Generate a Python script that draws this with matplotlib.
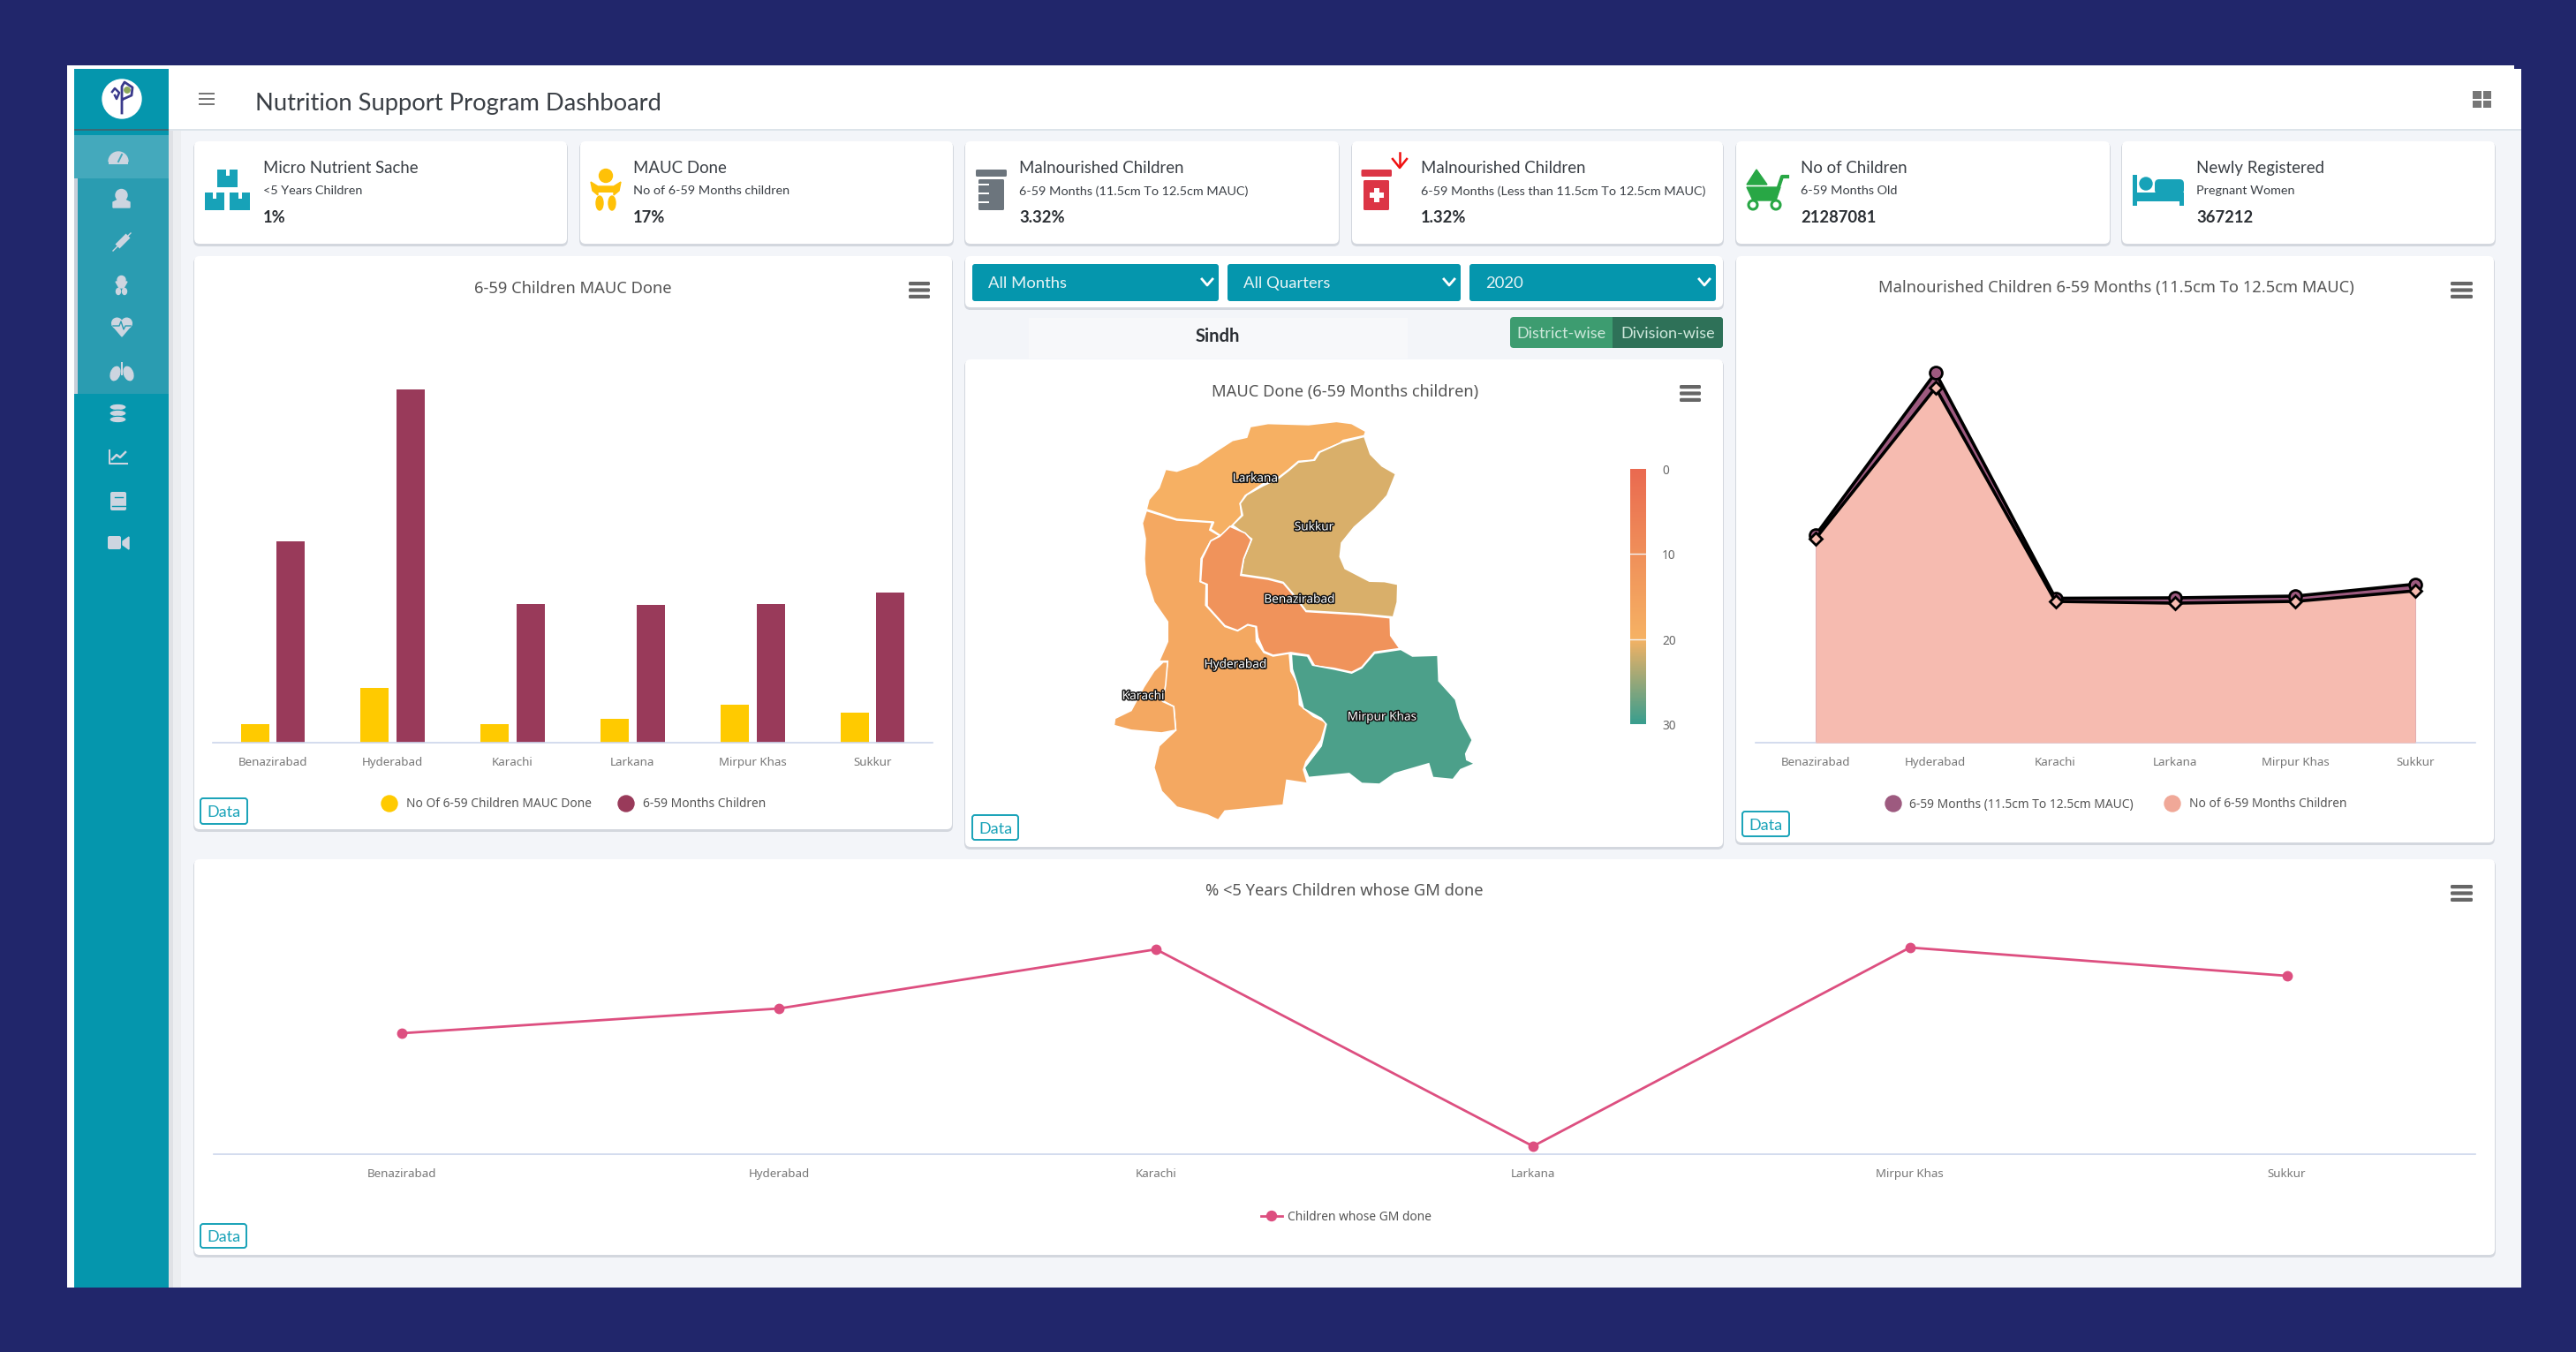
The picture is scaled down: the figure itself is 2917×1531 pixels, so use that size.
import matplotlib
matplotlib.use("Agg")
import matplotlib.pyplot as plt
import numpy as np
from matplotlib import patheffects as pe
from matplotlib.colors import LinearSegmentedColormap, Normalize
from matplotlib.patches import Circle, Ellipse, FancyBboxPatch, Polygon, Rectangle, Wedge

W, H = 2917, 1531

districts = ["Benazirabad", "Hyderabad", "Karachi", "Larkana", "Mirpur Khas", "Sukkur"]

# left bars
mauc_done = [21.5, 62, 21.5, 27.5, 43, 34.5]
children_659 = [228, 400, 157.5, 156, 157.5, 170.5]

# right area chart
malnourished_band = [235, 419, 163.5, 164, 166, 179.5]
children_band = [231, 402, 160, 158, 160, 172]

# bottom line
gm_done = [137, 165, 232, 9, 234, 202]

# map, values on the colour scale
map_values = {"Larkana": 19.3, "Sukkur": 21.5, "Benazirabad": 10.8, "Hyderabad": 17.2,
              "Karachi": 17.2, "Mirpur Khas": 29.0}
scale_ticks = [0, 10, 20, 30]
scale_colors = ["#EA6A50", "#F0905A", "#F6B264", "#3A9E8E"]

# outlines in map units
larkana = [(585, 455), (620, 447), (700, 450), (755, 442), (785, 447), (813, 467), (810, 478), (768, 490),
           (762, 497), (720, 520), (710, 540), (680, 543), (660, 565), (640, 585), (610, 600), (575, 630),
           (565, 650), (568, 680), (550, 705), (527, 732), (507, 715), (513, 697), (440, 690), (380, 665),
           (385, 640), (405, 610), (418, 563), (440, 568), (480, 550), (520, 515), (550, 490), (578, 482)]
sukkur = [(810, 480), (822, 525), (845, 555), (872, 575), (855, 630), (830, 665), (790, 710), (765, 750),
          (762, 785), (772, 815), (820, 847), (850, 848), (876, 855), (875, 900), (867, 938), (800, 930),
          (695, 922), (670, 880), (650, 850), (620, 840), (567, 830), (572, 790), (588, 740), (550, 705),
          (570, 680), (565, 650), (578, 628), (610, 605), (640, 587), (662, 565), (680, 545), (712, 540),
          (722, 520), (765, 495)]
benazirabad = [(545, 708), (575, 725), (587, 742), (572, 790), (566, 832), (620, 842), (650, 852), (670, 882),
               (695, 924), (800, 932), (861, 940), (862, 985), (880, 1018), (830, 1027), (805, 1065), (785, 1078),
               (750, 1068), (712, 1062), (700, 1035), (665, 1028), (630, 1035), (612, 1025), (600, 990),
               (597, 962), (580, 957), (560, 972), (535, 960), (500, 910), (500, 855), (487, 848), (490, 790),
               (507, 745), (525, 733)]
hyderabad = [(380, 668), (440, 692), (510, 698), (505, 717), (525, 732), (507, 745), (488, 790), (486, 848),
             (498, 855), (497, 908), (535, 962), (560, 973), (580, 958), (596, 963), (597, 1000), (612, 1028),
             (630, 1037), (662, 1030), (665, 1075), (680, 1110), (682, 1160), (710, 1190), (735, 1205),
             (725, 1250), (695, 1305), (690, 1325), (698, 1360), (657, 1352), (650, 1415), (535, 1430),
             (522, 1453), (500, 1440), (440, 1420), (410, 1380), (395, 1320), (405, 1265), (438, 1225),
             (434, 1165), (412, 1150), (422, 1050), (405, 1050), (422, 1000), (422, 950), (395, 900),
             (378, 830), (376, 790), (378, 740), (372, 700)]
karachi = [(413, 1052), (422, 1052), (418, 1110), (412, 1152), (434, 1165), (438, 1225), (410, 1232),
           (350, 1225), (316, 1213), (318, 1195), (350, 1175), (375, 1115), (395, 1075)]
mirpur_khas = [(666, 1032), (698, 1037), (708, 1060), (750, 1070), (785, 1080), (805, 1067), (830, 1030),
               (882, 1020), (905, 1037), (955, 1035), (957, 1100), (990, 1147), (1000, 1195), (1023, 1250),
               (1010, 1285), (1012, 1300), (1028, 1310), (1000, 1325), (985, 1350), (945, 1345), (937, 1310),
               (870, 1335), (840, 1362), (805, 1360), (780, 1335), (700, 1345), (692, 1320), (725, 1265),
               (735, 1210), (725, 1195), (690, 1170), (678, 1110), (668, 1070)]
map_shapes = {"Larkana": larkana, "Sukkur": sukkur, "Hyderabad": hyderabad, "Karachi": karachi,
              "Benazirabad": benazirabad, "Mirpur Khas": mirpur_khas}
map_labels = {"Larkana": (595, 587), "Sukkur": (711, 710), "Benazirabad": (682, 894),
              "Hyderabad": (556, 1059), "Karachi": (374, 1139), "Mirpur Khas": (845, 1192)}

NAVY = "#21266B"
TEAL = "#0596AD"
ICON = "#17A2B8"
LIGHT = "#CDD5E0"
UI_FONT = "Lato"
CHART_FONT = "Noto Sans"

fig = plt.figure(figsize=(W / 100, H / 100), dpi=100, facecolor=NAVY)
bg = fig.add_axes([0, 0, 1, 1])
bg.set_xlim(0, W); bg.set_ylim(H, 0); bg.axis("off")


def rect(x0, y0, x1, y1, color, z=1):
    bg.add_patch(Rectangle((x0, y0), x1 - x0, y1 - y0, color=color, lw=0, zorder=z))


def rbox(x0, y0, x1, y1, color, r=6, z=2, edge="none", lw=0):
    bg.add_patch(FancyBboxPatch((x0, y0), x1 - x0, y1 - y0, boxstyle=f"round,pad=0,rounding_size={r}",
                                fc=color, ec=edge, lw=lw, zorder=z))


def label(x, y, s, size, color="#333333", ha="left", weight="normal", font=UI_FONT, z=6):
    return bg.text(x, y + 1.5, s, fontsize=size, color=color, ha=ha, va="center", fontweight=weight,
                   family=font, zorder=z)


def card(x0, y0, x1, y1):
    rbox(x0 - 1, y0 + 1, x1 + 1, y1 + 3, "#D3D7DE", r=7, z=2)
    rbox(x0, y0, x1, y1, "white", r=6, z=3)


def menu_bars(x0, x1, y0, y1, color="#666666"):
    t = (y1 - y0) / 4.5
    for y in np.linspace(y0, y1 - t, 3):
        rbox(x0, y, x1, y + t, color, r=1.5, z=5)


def data_button(x0, y0, x1, y1):
    rbox(x0, y0, x1, y1, "white", r=3, z=5, edge=ICON, lw=1.4)
    label((x0 + x1) / 2, (y0 + y1) / 2, "Data", 13, ICON, ha="center")


def px_axes(x0, y0, x1, y1):
    ax = fig.add_axes([x0 / W, 1 - y1 / H, (x1 - x0) / W, (y1 - y0) / H])
    ax.patch.set_alpha(0)
    return ax


def district_axes(x0, x1, y_base, top=450):
    # one data unit is one pixel tall, baseline at y_base
    ax = px_axes(x0, y_base - top, x1, y_base)
    ax.set_xlim(-0.5, 5.5); ax.set_ylim(0, top)
    for s in ["top", "left", "right"]:
        ax.spines[s].set_visible(False)
    ax.spines["bottom"].set_color("#CCD6EB")
    ax.spines["bottom"].set_linewidth(1.2)
    ax.set_yticks([])
    ax.set_xticks(range(len(districts)))
    ax.set_xticklabels(districts, fontsize=9.6, color="#777777", family=CHART_FONT)
    ax.tick_params(axis="x", length=0, pad=11.5)
    return ax


# page frame
rect(76, 74, 2847, 78, "white")
rect(76, 78, 2855, 1458, "#F3F5F9")
rect(76, 78, 84, 1458, "white")
rect(191, 74, 2855, 146, "white", z=1)
rect(2847, 74, 2917, 78, NAVY, z=1)
rect(191, 146, 2855, 148, "#DDE4EA", z=1)
rect(191, 148, 205, 1458, "#ECEEF1", z=1)
rect(191, 148, 196, 1458, "#DFE1E5", z=1)

# sidebar
rect(84, 78, 191, 1458, TEAL, z=2)
rect(84, 146, 191, 147.5, "#3A6A76", z=3)
rect(84, 153, 191, 202, "#44A9BC", z=3)
rect(88, 202, 191, 446, "#2A9CB1", z=3)
rect(84, 202, 88, 446, "#C9CFD9", z=3)

bg.add_patch(Circle((138, 112), 22, color="white", zorder=5))
bg.plot([127, 130, 135, 132, 130], [104, 100, 105, 112, 108], color="#3A3A8C", lw=1.8, zorder=6)
bg.plot([138, 138, 141, 150, 149, 140], [128, 98, 93, 99, 108, 112], color="#3A3A8C", lw=2, zorder=6)
bg.add_patch(Circle((144, 102), 3.2, color="#8CA85A", zorder=6))

# sidebar icons
bg.add_patch(Wedge((134, 183), 11, 180, 360, color=LIGHT, zorder=5))
rect(123, 183, 145, 186, LIGHT, z=5)
bg.plot([134, 138], [183, 175], color="#44A9BC", lw=1.4, zorder=6)
bg.add_patch(Circle((137.5, 221), 6.5, color=LIGHT, zorder=5))
bg.add_patch(Polygon([(128, 235), (128, 229), (134, 226), (141, 226), (147, 229), (147, 235)], color=LIGHT, zorder=5))
bg.plot([128, 148], [284, 264], color=LIGHT, lw=1, zorder=5)
bg.plot([133, 145], [279, 267], color=LIGHT, lw=5, solid_capstyle="butt", zorder=5)
bg.add_patch(Circle((137.5, 317), 4.5, color=LIGHT, zorder=5))
bg.add_patch(Polygon([(131, 319), (144, 319), (140, 326), (135, 326)], color=LIGHT, zorder=5))
bg.add_patch(Ellipse((134, 330), 5, 7, color=LIGHT, zorder=5))
bg.add_patch(Ellipse((141, 330), 5, 7, color=LIGHT, zorder=5))
for cx in [132.5, 143.5]:
    bg.add_patch(Circle((cx, 366), 5.8, color=LIGHT, zorder=5))
bg.add_patch(Polygon([(127, 368), (149, 368), (138, 381)], color=LIGHT, zorder=5))
bg.plot([128, 135, 137, 140, 142, 148], [369, 369, 364, 373, 369, 369], color="#2A9CB1", lw=1, zorder=6)
bg.add_patch(Ellipse((130.5, 423), 10, 16, angle=20, color=LIGHT, zorder=5))
bg.add_patch(Ellipse((145.5, 423), 10, 16, angle=-20, color=LIGHT, zorder=5))
rect(137, 410, 139, 425, LIGHT, z=5)
for y in [461, 468, 475]:
    bg.add_patch(Ellipse((133.5, y), 19, 7.5, fc=LIGHT, ec=TEAL, lw=0.8, zorder=5))
bg.plot([124, 124, 144], [510, 525, 525], color=LIGHT, lw=1.5, zorder=5)
bg.plot([127, 132, 136, 142], [520, 515, 518, 512], color=LIGHT, lw=1.8, zorder=5)
rbox(125, 557, 143, 578, LIGHT, r=2, z=5)
bg.plot([130, 139], [563, 563], color=TEAL, lw=1, zorder=6)
bg.plot([127, 143], [573, 573], color=TEAL, lw=1, zorder=6)
rbox(122, 607, 137, 622, LIGHT, r=2, z=5)
bg.add_patch(Polygon([(139, 613), (146, 608), (146, 622), (139, 617)], color=LIGHT, zorder=5))

# header
for y in [106, 112, 118]:
    rect(225, y - 1.3, 243, y + 1.3, "#777777", z=5)
label(289, 116, "Nutrition Support Program Dashboard", 19.7, "#3A3F45")
for x in [2800, 2811.5]:
    for y in [103, 113.5]:
        rect(x, y, x + 9.5, y + 8.5, "#777777", z=5)

# top stat cards
stat_x = [(220, 642, 298), (657, 1079, 717), (1093, 1516, 1154), (1531, 1951, 1609), (1966, 2389, 2039), (2403, 2825, 2487)]
stat_title = ["Micro Nutrient Sache", "MAUC Done", "Malnourished Children", "Malnourished Children", "No of Children", "Newly Registered"]
stat_sub = ["<5 Years Children", "No of 6-59 Months children", "6-59 Months (11.5cm To 12.5cm MAUC)",
            "6-59 Months (Less than 11.5cm To 12.5cm MAUC)", "6-59 Months Old", "Pregnant Women"]
stat_value = ["1%", "17%", "3.32%", "1.32%", "21287081", "367212"]
for (x0, x1, tx), a, b, c in zip(stat_x, stat_title, stat_sub, stat_value):
    card(x0, 160, x1, 276)
    label(tx, 189, a, 13.4, "#3A3F45")
    label(tx, 215, b, 10.4, "#3A3F45")
    label(tx, 245, c, 13.2, "#2A2E33", weight="bold")

# card icons
YEL, GREY, RED, GRN = "#FFC107", "#6C757D", "#DC3545", "#28A745"
for x0, x1, y0, y1 in [(246, 269, 192, 212), (232, 254, 218, 238), (260, 283, 218, 238)]:
    rect(x0, y0, x1, y1, ICON, z=5)
    rect((x0 + x1) / 2 - 2, y0, (x0 + x1) / 2 + 2, y0 + 7, "white", z=6)
bg.add_patch(Circle((686, 199), 7.5, color=YEL, zorder=5))
bg.add_patch(Polygon([(669, 206), (677, 211), (695, 211), (703, 206), (701, 216), (695, 221), (695, 217), (677, 217), (677, 221), (671, 216)], color=YEL, zorder=5))
rect(677, 213, 695, 218, YEL, z=5)
bg.add_patch(Ellipse((679, 230), 8, 16, color=YEL, zorder=5))
bg.add_patch(Ellipse((693, 230), 8, 16, color=YEL, zorder=5))

rbox(1105, 192, 1140, 200, GREY, r=1.5, z=5)
rbox(1108, 203, 1137, 238, GREY, r=1.5, z=5)
for y in [209, 219, 229]:
    rect(1108, y - 1.2, 1120, y + 1.2, "white", z=6)

rbox(1541.5, 192, 1576, 200, RED, r=1.5, z=5)
rbox(1544, 204, 1573, 238, RED, r=1.5, z=5)
rect(1556, 213, 1562, 229, "white", z=6)
rect(1551, 218, 1567, 224, "white", z=6)
bg.plot([1585, 1585], [173, 188], color="#F01010", lw=1.8, zorder=6)
bg.plot([1577, 1585, 1593], [180, 190, 180], color="#F01010", lw=1.8, zorder=6)

bg.add_patch(Polygon([(1989, 192), (2001, 209), (1978, 209)], color=GRN, zorder=5))
bg.add_patch(Polygon([(1978, 212), (2016, 212), (2011, 227), (1985, 227)], color=GRN, zorder=5))
bg.plot([2013, 2018, 2024], [215, 200, 200], color=GRN, lw=3, zorder=5)
for cx in [1985, 2011]:
    bg.add_patch(Circle((cx, 232), 5, fc="white", ec=GRN, lw=2.2, zorder=5))

rect(2415, 198, 2420, 233, ICON, z=5)
rect(2415, 218, 2473, 228, ICON, z=5)
rect(2468, 218, 2473, 233, ICON, z=5)
rbox(2440, 203, 2473, 220, ICON, r=5, z=5)
bg.add_patch(Circle((2430, 208), 7, color=ICON, zorder=5))

# chart cards
card(220, 290, 1078, 939)
card(1093, 290, 1951, 348)
card(1093, 407, 1951, 959)
card(1966, 290, 2824, 954)
card(220, 973, 2825, 1421)
rect(1165, 360, 1594, 406, "#F7F8FA", z=2)

label(649, 325, "6-59 Children MAUC Done", 13.2, "#555555", ha="center", font=CHART_FONT)
label(1523, 442, "MAUC Done (6-59 Months children)", 13.2, "#555555", ha="center", font=CHART_FONT)
label(2396, 325, "Malnourished Children 6-59 Months (11.5cm To 12.5cm MAUC)", 13.2, "#555555", ha="center", font=CHART_FONT)
label(1522, 1008, "% <5 Years Children whose GM done", 13.2, "#555555", ha="center", font=CHART_FONT)
menu_bars(1029, 1053, 319, 338)
menu_bars(1902, 1926, 436, 455)
menu_bars(2775, 2800, 319, 338)
menu_bars(2775, 2800, 1002, 1021)
data_button(227, 904, 280, 933)
data_button(1101, 923, 1153, 951)
data_button(1973, 919, 2026, 947)
data_button(227, 1386, 279, 1413)

# filters
for x0, x1, txt, tx, cx in [(1101, 1380, "All Months", 1119, 1367), (1390, 1654, "All Quarters", 1408, 1641),
                            (1664, 1943, "2020", 1682, 1930)]:
    rbox(x0, 299, x1, 341, TEAL, r=3, z=5)
    label(tx, 319.5, txt, 13.3, "#E8F4F6")
    bg.plot([cx - 6, cx, cx + 6], [316, 323, 316], color="white", lw=2, zorder=6)
label(1379, 379.5, "Sindh", 14.5, "#2A2E33", ha="center", weight="bold")
rbox(1710, 359, 1951, 394, "#3D9C70", r=4, z=5)
rbox(1826, 359, 1951, 394, "#2E7158", r=4, z=5)
rect(1826, 359, 1836, 394, "#2E7158", z=5)
label(1768, 376.5, "District-wise", 13, "#CFE8DC", ha="center")
label(1889, 376.5, "Division-wise", 13, "#CFE8DC", ha="center")

# 6-59 children bars
x = np.arange(len(districts))
ax = district_axes(241, 1056, 841)
ax.bar(x - 0.15, mauc_done, width=0.236, color="#FFCA00")
ax.bar(x + 0.15, children_659, width=0.236, color="#993A5A")

bg.add_patch(Circle((441, 910), 9, color="#FFCA00", zorder=6))
label(460, 909.5, "No Of 6-59 Children MAUC Done", 9.9, "#555555", font=CHART_FONT)
bg.add_patch(Circle((709, 910), 9, color="#993A5A", zorder=6))
label(728, 909.5, "6-59 Months Children", 9.9, "#555555", font=CHART_FONT)

# malnourished area
ax = district_axes(1988, 2803, 841)
ax.fill_between(x, malnourished_band, color="#9D5A7F", lw=0)
ax.plot(x, malnourished_band, color="black", lw=2.6, marker="o", ms=10, mfc="#9D5A7F", mec="black", mew=2)
ax.fill_between(x, children_band, color="#F6BBB0", lw=0, zorder=3)
ax.plot(x, children_band, color="black", lw=2.6, marker="D", ms=7.5, mfc="#F6BBB0", mec="black", mew=2, zorder=4)

bg.add_patch(Circle((2144, 910), 9, color="#9D5A7F", zorder=6))
label(2162, 909.5, "6-59 Months (11.5cm To 12.5cm MAUC)", 9.9, "#555555", font=CHART_FONT)
bg.add_patch(Circle((2460, 910), 9, color="#F0A898", zorder=6))
label(2479, 909.5, "No of 6-59 Months Children", 9.9, "#555555", font=CHART_FONT)

# GM line
ax = district_axes(242, 2803, 1307, top=280)
ax.plot(x, gm_done, color="#DD4F80", lw=2, marker="o", ms=7.5, clip_on=False)
bg.plot([1428, 1452], [1377, 1377], color="#DD4F80", lw=2, zorder=6)
bg.add_patch(Circle((1440, 1377), 5.5, color="#DD4F80", zorder=6))
label(1458, 1376.5, "Children whose GM done", 9.9, "#555555", font=CHART_FONT)

# map
cmap = LinearSegmentedColormap.from_list("mauc", [(t / 30, c) for t, c in zip(scale_ticks, scale_colors)])
norm = Normalize(0, 30)
ax = px_axes(1080, 280, 1980, 980)
ax.set_xlim(0, 1568); ax.set_ylim(1568, 0); ax.axis("off")
for name, pts in map_shapes.items():
    ax.add_patch(Polygon(pts, closed=True, fc=cmap(norm(map_values[name])), ec="white", lw=1.2))
for name, (lx, ly) in map_labels.items():
    ax.text(lx, ly, name, fontsize=9.8, color="white", ha="center", va="center", family=CHART_FONT,
            path_effects=[pe.withStroke(linewidth=2.2, foreground="#111111")])

# colour scale
ax = px_axes(1846, 531, 1864, 820)
ax.imshow(np.linspace(0, 30, 200).reshape(-1, 1), cmap=cmap, norm=norm, aspect="auto", extent=[0, 1, 30, 0])
ax.axis("off")
for t in scale_ticks[1:-1]:
    ax.axhline(t, color="#F4F4F4", lw=1)
for t in scale_ticks:
    ax.text(2.0, t + 0.25, str(t), fontsize=9.9, color="#666666", va="center", family=CHART_FONT, clip_on=False)

fig.savefig("out.png", dpi=100, facecolor=NAVY)
